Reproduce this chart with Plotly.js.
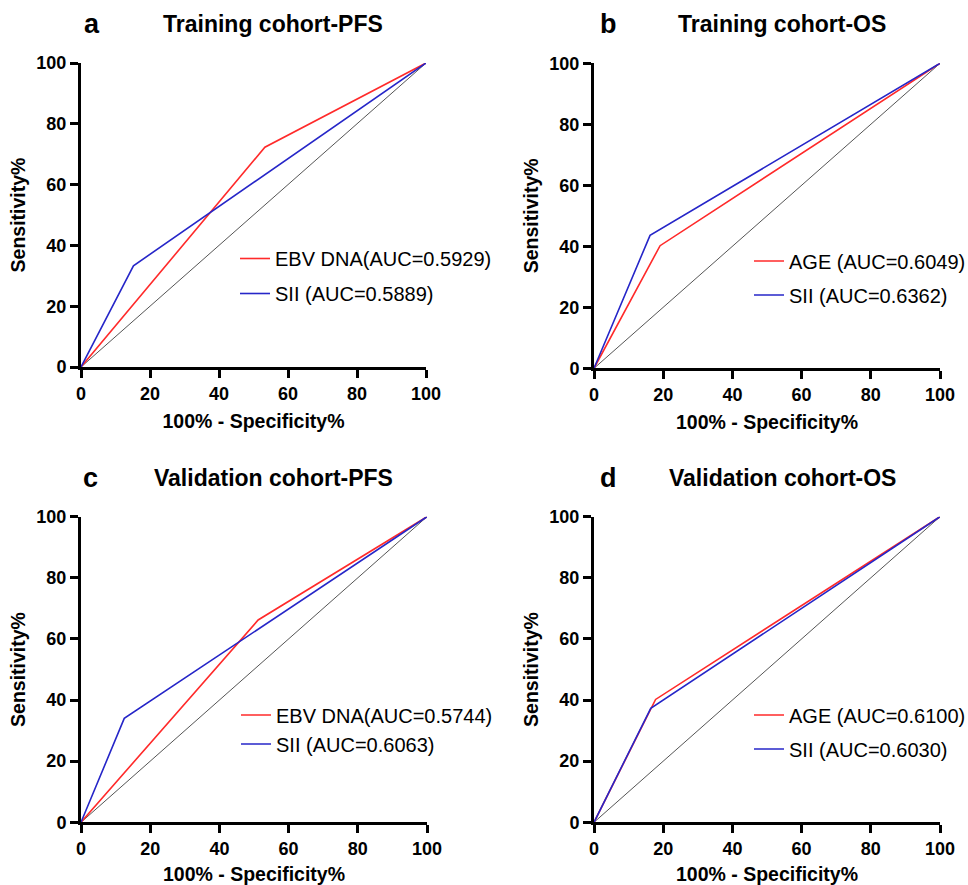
<!DOCTYPE html>
<html>
<head>
<meta charset="utf-8">
<script src="https://cdn.plot.ly/plotly-3.0.1.min.js"></script>
<style>html,body{margin:0;padding:0;background:#fff;}#chart{width:968px;height:885px;}</style>
</head>
<body>
<div id="chart"></div>
<script>
// ---- data ----
const panelLetters = ["a", "b", "c", "d"];
const panelTitles = ["Training cohort-PFS", "Training cohort-OS", "Validation cohort-PFS", "Validation cohort-OS"];
const redNames = ["EBV DNA(AUC=0.5929)", "AGE (AUC=0.6049)", "EBV DNA(AUC=0.5744)", "AGE (AUC=0.6100)"];
const blueNames = ["SII (AUC=0.5889)", "SII (AUC=0.6362)", "SII (AUC=0.6063)", "SII (AUC=0.6030)"];
// ROC points: 100% - Specificity% (x) and Sensitivity% (y)
const redX_a = [0, 53.3, 100];  const redY_a = [0, 72.3, 100];
const blueX_a = [0, 15.2, 100]; const blueY_a = [0, 33.3, 100];
const redX_b = [0, 19.1, 100];  const redY_b = [0, 40.2, 100];
const blueX_b = [0, 16.2, 100]; const blueY_b = [0, 43.6, 100];
const redX_c = [0, 51.2, 100];  const redY_c = [0, 66.2, 100];
const blueX_c = [0, 12.5, 100]; const blueY_c = [0, 34.0, 100];
const redX_d = [0, 17.8, 100];  const redY_d = [0, 40.2, 100];
const blueX_d = [0, 16.4, 100]; const blueY_d = [0, 37.3, 100];
const refX = [0, 100];
const refY = [0, 100];
const tickVals = [0, 20, 40, 60, 80, 100];
const xTitle = "100% - Specificity%";
const yTitle = "Sensitivity%";

const redXs = [redX_a, redX_b, redX_c, redX_d];
const redYs = [redY_a, redY_b, redY_c, redY_d];
const blueXs = [blueX_a, blueX_b, blueX_c, blueX_d];
const blueYs = [blueY_a, blueY_b, blueY_c, blueY_d];

// ---- layout geometry (pixels) ----
const W = 968, H = 885;
const boxes = [
  {x0: 81, x1: 426, y0: 63, y1: 367},
  {x0: 594, x1: 940, y0: 63.3, y1: 368.3},
  {x0: 81, x1: 427, y0: 516.7, y1: 822.3},
  {x0: 594, x1: 940, y0: 516.7, y1: 822.3}
];
const legendPos = [
  {x: 235, y: 276, gap: 6},
  {x: 749, y: 278, gap: 5},
  {x: 236, y: 729.5, gap: 0},
  {x: 749, y: 732, gap: 5}
];
const titleCx = [273, 782, 273, 782];
const letterCx = [92, 608, 90, 608];

const RED = "#ff2a2a", BLUE = "#2626c8", GRAY = "#555555";
const FONT = "Liberation Sans, Arial, sans-serif";

const traces = [];
const layout = {
  width: W, height: H,
  margin: {l: 0, r: 0, t: 0, b: 0, autoexpand: false},
  paper_bgcolor: "#fff", plot_bgcolor: "#fff",
  showlegend: true,
  annotations: [],
  font: {family: FONT, color: "#000"}
};

for (let i = 0; i < 4; i++) {
  const n = i + 1;
  const xa = n === 1 ? "x" : "x" + n;
  const ya = n === 1 ? "y" : "y" + n;
  const lg = n === 1 ? "legend" : "legend" + n;
  const b = boxes[i];
  traces.push({x: refX, y: refY, xaxis: xa, yaxis: ya, mode: "lines", type: "scatter",
    line: {color: GRAY, width: 1}, showlegend: false, hoverinfo: "skip"});
  traces.push({x: redXs[i], y: redYs[i], xaxis: xa, yaxis: ya, mode: "lines", type: "scatter",
    name: redNames[i], legend: lg, legendgroup: "r" + n, line: {color: RED, width: 1.6}});
  traces.push({x: blueXs[i], y: blueYs[i], xaxis: xa, yaxis: ya, mode: "lines", type: "scatter",
    name: blueNames[i], legend: lg, legendgroup: "b" + n, line: {color: BLUE, width: 1.6}});

  const axCommon = {
    range: [0, 100], tickvals: tickVals, ticks: "outside", ticklen: 8, tickwidth: 3,
    tickcolor: "#000", showline: true, linewidth: 3, linecolor: "#000",
    showgrid: false, zeroline: false, fixedrange: true, automargin: false,
    tickfont: {family: FONT, size: 18, color: "#000", weight: "bold"}
  };
  layout["xaxis" + (n === 1 ? "" : n)] = Object.assign({}, axCommon, {
    domain: [b.x0 / W, b.x1 / W], anchor: ya,
    title: {text: xTitle, font: {family: FONT, size: 19.5, color: "#000", weight: "bold"}, standoff: 12}
  });
  layout["yaxis" + (n === 1 ? "" : n)] = Object.assign({}, axCommon, {
    domain: [1 - b.y1 / H, 1 - b.y0 / H], anchor: xa,
    title: {text: yTitle, font: {family: FONT, size: 19.5, color: "#000", weight: "bold"}, standoff: 6}
  });
  layout[lg] = {
    x: legendPos[i].x / W, y: 1 - legendPos[i].y / H, xanchor: "left", yanchor: "middle",
    xref: "paper", yref: "paper", bgcolor: "rgba(0,0,0,0)", borderwidth: 0,
    font: {family: FONT, size: 20, color: "#000"}, traceorder: "grouped", tracegroupgap: legendPos[i].gap
  };
  layout.annotations.push({
    text: panelTitles[i], xref: "paper", yref: "paper", x: titleCx[i] / W,
    y: 1 - (i < 2 ? 24 : 478) / H, xanchor: "center", yanchor: "middle", showarrow: false,
    font: {family: FONT, size: 23, color: "#000", weight: "bold"}
  });
  layout.annotations.push({
    text: panelLetters[i], xref: "paper", yref: "paper", x: letterCx[i] / W,
    y: 1 - (i < 2 ? 24 : 478) / H, xanchor: "center", yanchor: "middle", showarrow: false,
    font: {family: FONT, size: 27, color: "#000", weight: "bold"}
  });
}

Plotly.newPlot("chart", traces, layout, {displayModeBar: false, staticPlot: true});
</script>
</body>
</html>
